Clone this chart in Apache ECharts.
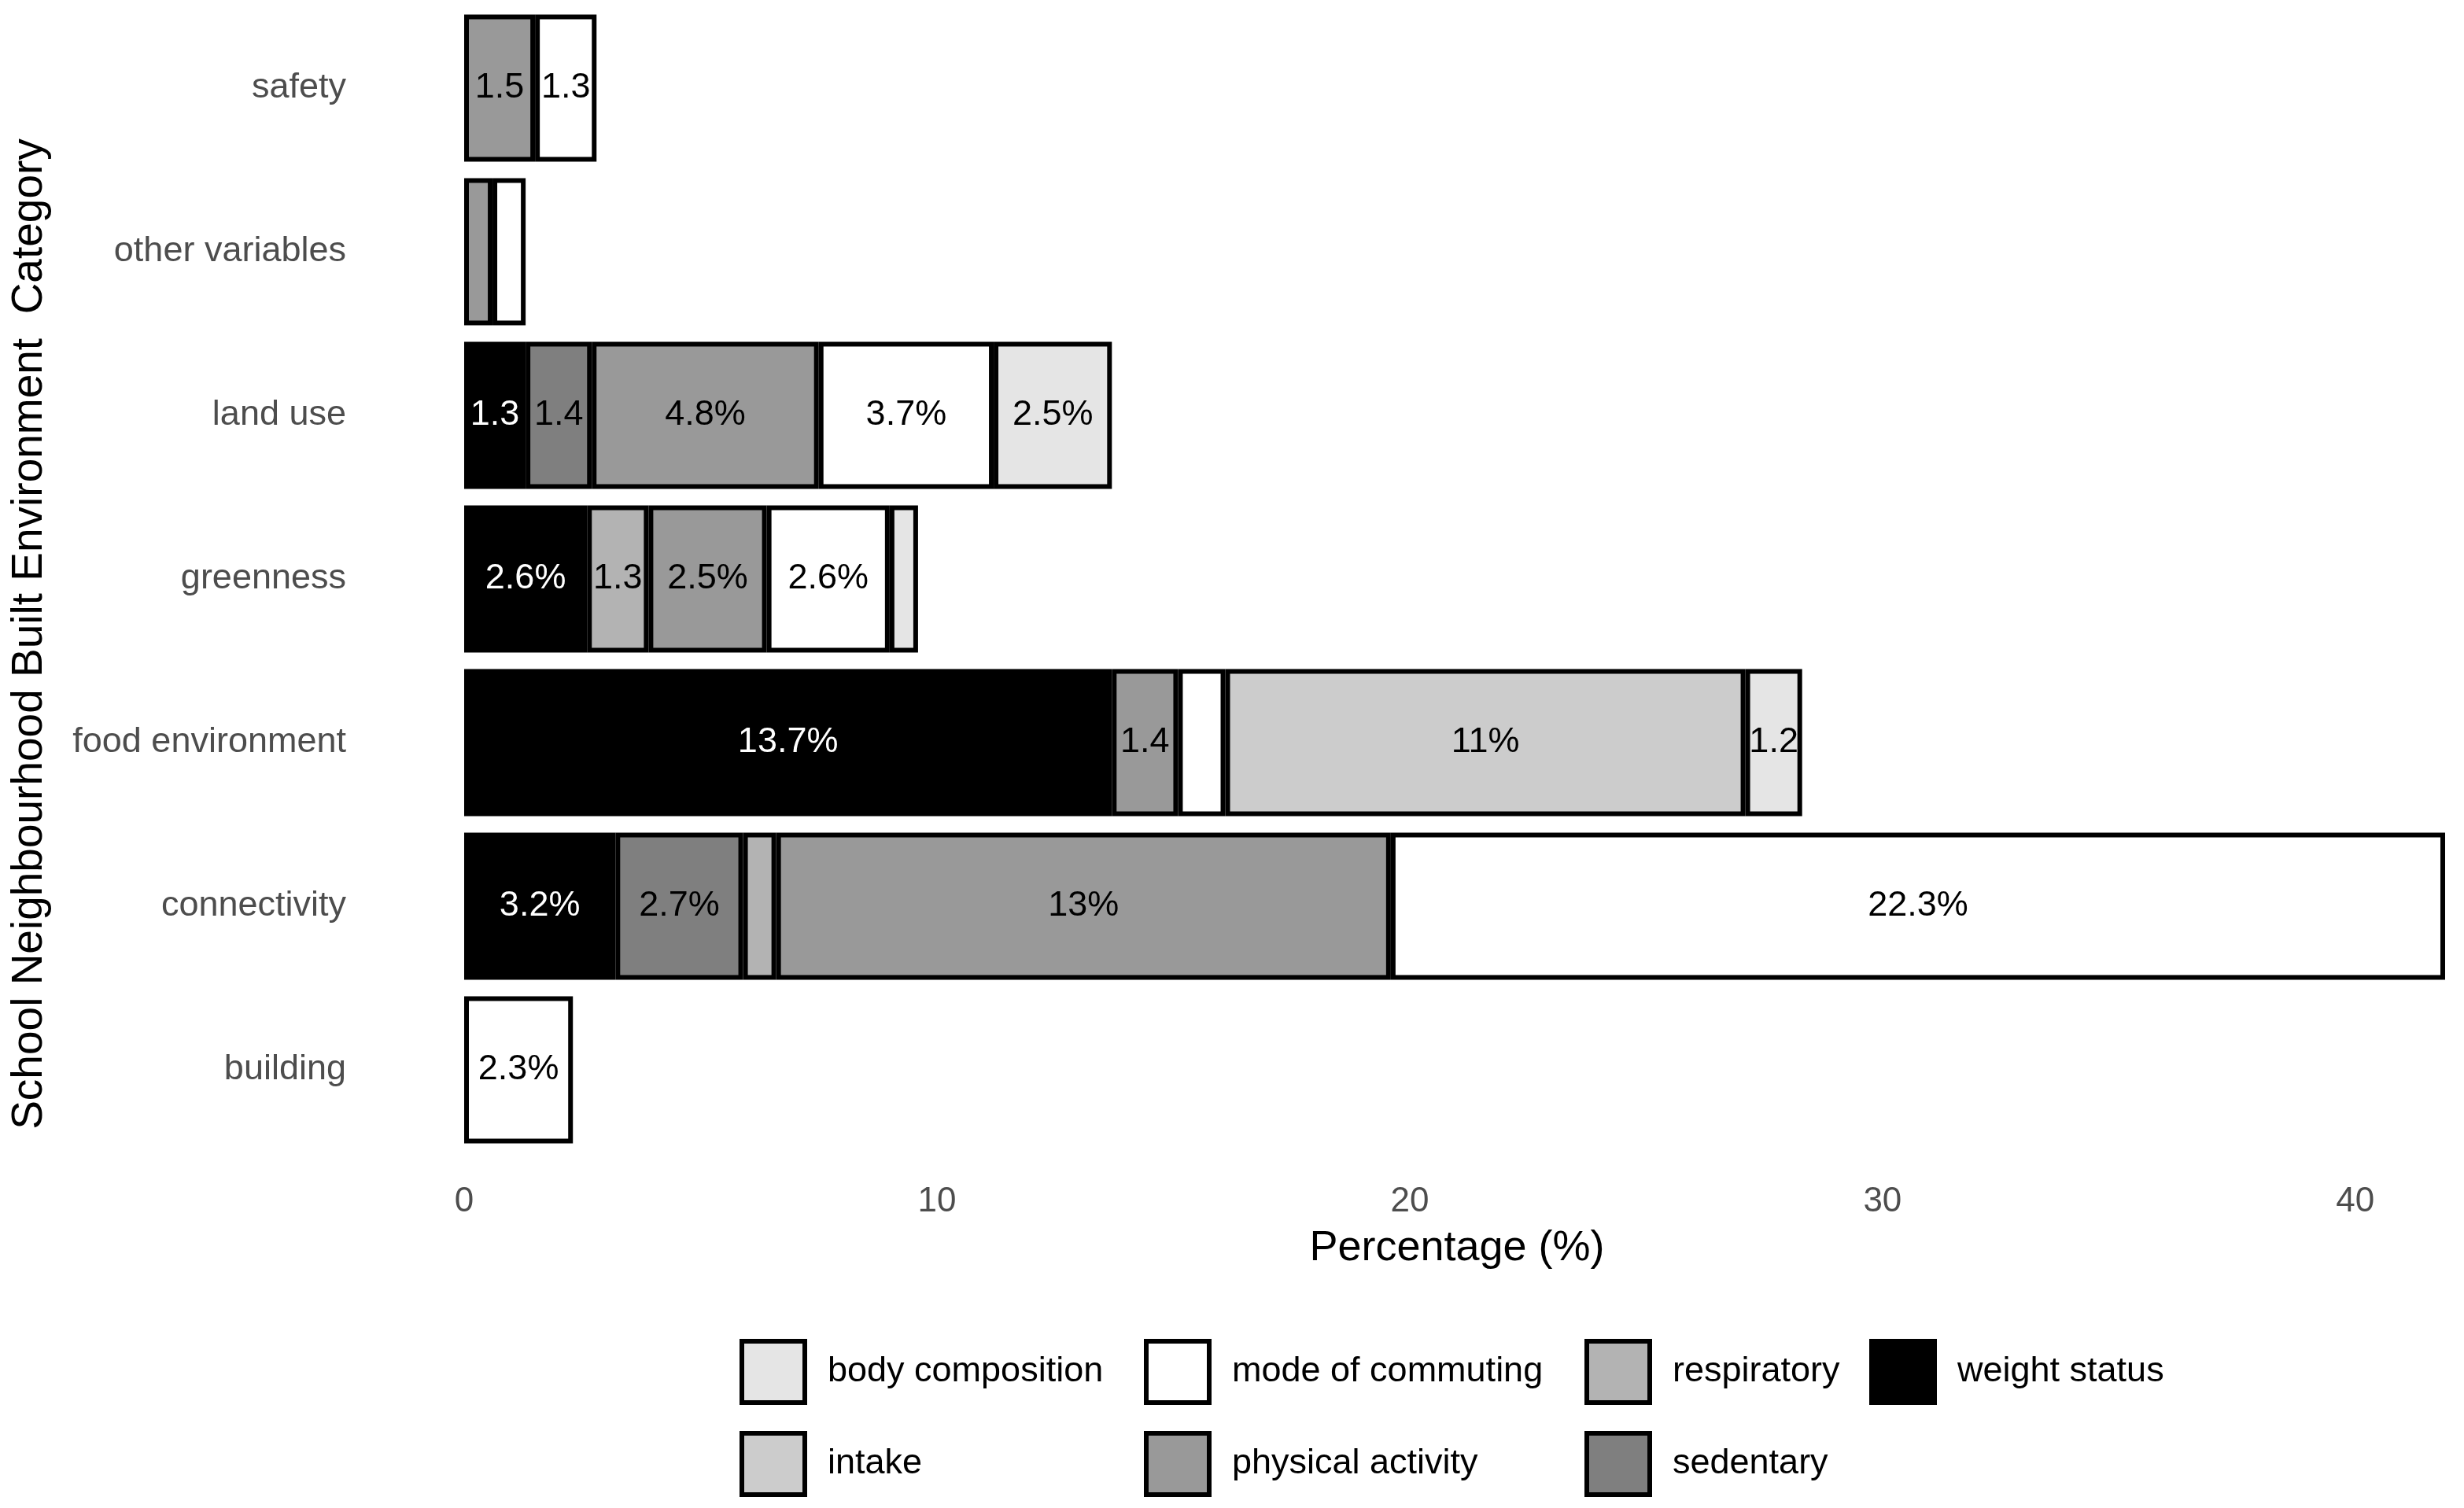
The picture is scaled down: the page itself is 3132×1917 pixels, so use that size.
<!DOCTYPE html>
<html lang="en">
<head>
  <meta charset="UTF-8" />
  <title>School neighbourhood built environment</title>
  <script src="https://cdn.jsdelivr.net/npm/echarts@6"></script>
  <style>
    html, body {
      margin: 0;
      padding: 0;
      background: #ffffff;
    }
    #chart {
      width: 3132px;
      height: 1917px;
    }
  </style>
</head>
<body>
  <div id="chart"></div>

  <script>
    // categories, bottom to top
    const categories = ['building', 'connectivity', 'food environment', 'greenness', 'land use', 'other variables', 'safety'];

    // percentages per outcome (null = not present)
    const weightStatus     = [null, 3.2, 13.7, 2.6, 1.3, null, null];
    const sedentary        = [null, 2.7, null, null, 1.4, null, null];
    const respiratory      = [null, 0.7, null, 1.3, null, null, null];
    const physicalActivity = [null, 13, 1.4, 2.5, 4.8, 0.6, 1.5];
    const modeOfCommuting  = [2.3, 22.3, 1.0, 2.6, 3.7, 0.7, 1.3];
    const intake           = [null, null, 11, null, null, null, null];
    const bodyComposition  = [null, null, 1.2, 0.6, 2.5, null, null];

    const xTicks = [0, 10, 20, 30, 40];

    const FONT = '"Liberation Sans", Arial, sans-serif';

    // stacked left to right
    const seriesDefs = [
      { name: 'weight status', data: weightStatus, color: '#000000', text: '#ffffff' },
      { name: 'sedentary', data: sedentary, color: '#7f7f7f', text: '#000000' },
      { name: 'respiratory', data: respiratory, color: '#b3b3b3', text: '#000000' },
      { name: 'physical activity', data: physicalActivity, color: '#999999', text: '#000000' },
      { name: 'mode of commuting', data: modeOfCommuting, color: '#ffffff', text: '#000000' },
      { name: 'intake', data: intake, color: '#cccccc', text: '#000000' },
      { name: 'body composition', data: bodyComposition, color: '#e5e5e5', text: '#000000' }
    ];

    function fmt(v) {
      if (v == null || v <= 1) return '';
      return v < 2 ? String(v) : v + '%';
    }

    const series = seriesDefs.map(s => ({
      name: s.name,
      type: 'bar',
      stack: 'total',
      barCategoryGap: '10%',
      data: s.data,
      itemStyle: { color: s.color, borderColor: '#000000', borderWidth: 6 },
      label: {
        show: true,
        position: 'inside',
        formatter: p => fmt(p.value),
        color: s.text,
        fontFamily: FONT,
        fontSize: 45
      },
      emphasis: { disabled: true }
    }));

    const legendStyle = {
      orient: 'vertical',
      top: 1702,
      icon: 'rect',
      itemWidth: 80,
      itemHeight: 78,
      itemGap: 33,
      padding: 0,
      selectedMode: false,
      itemStyle: { borderColor: '#000000', borderWidth: 6 },
      textStyle: { fontFamily: FONT, fontSize: 45, color: '#000000', padding: [0, 0, 0, 24] }
    };

    const chart = echarts.init(document.getElementById('chart'));
    chart.setOption({
      animation: false,
      backgroundColor: '#ffffff',
      grid: { left: 590, right: 18, top: 8, bottom: 453 },
      xAxis: {
        type: 'value',
        min: 0,
        max: 42,
        interval: 10,
        name: 'Percentage (%)',
        nameLocation: 'middle',
        nameGap: 96,
        nameTextStyle: { fontFamily: FONT, fontSize: 54, color: '#000000' },
        axisLine: { show: false },
        axisTick: { show: false },
        splitLine: { show: false },
        axisLabel: {
          margin: 42,
          fontFamily: FONT,
          fontSize: 44,
          color: '#4d4d4d',
          showMaxLabel: false,
          formatter: v => (xTicks.includes(v) ? String(v) : '')
        }
      },
      yAxis: {
        type: 'category',
        data: categories,
        axisLine: { show: false },
        axisTick: { show: false },
        splitLine: { show: false },
        axisLabel: {
          margin: 150,
          fontFamily: FONT,
          fontSize: 45,
          color: '#4d4d4d'
        }
      },
      legend: [
        Object.assign({ left: 940, data: ['body composition', 'intake'] }, legendStyle),
        Object.assign({ left: 1454, data: ['mode of commuting', 'physical activity'] }, legendStyle),
        Object.assign({ left: 2014, data: ['respiratory', 'sedentary'] }, legendStyle),
        Object.assign({ left: 2376, data: ['weight status'] }, legendStyle)
      ],
      graphic: [{
        type: 'text',
        x: 38,
        y: 806,
        rotation: Math.PI / 2,
        style: {
          text: 'School Neighbourhood Built Environment  Category',
          fontFamily: FONT,
          fontSize: 55,
          fill: '#000000',
          align: 'center',
          verticalAlign: 'middle'
        }
      }],
      series: series
    });
  </script>
</body>
</html>
